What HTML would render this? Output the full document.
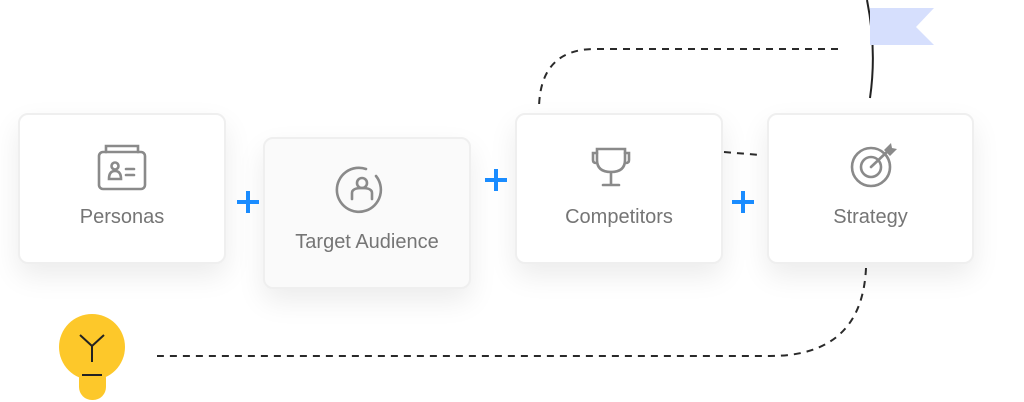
<!DOCTYPE html>
<html><head><style>
body{margin:0;width:1024px;height:402px;background:#fff;position:relative;overflow:hidden;font-family:"Liberation Sans",sans-serif}
.b{position:absolute;width:208px;height:151px;border:2px solid #efefef;border-radius:10px;background:#fff;box-shadow:0 12px 28px rgba(0,0,0,0.08);box-sizing:border-box}
.t{position:absolute;left:0;right:0;text-align:center;font-size:20px;color:#757575}
svg{position:absolute;left:0;top:0}
</style></head><body>
<div class="b" style="left:18px;top:113px"><div class="t" style="top:91px">Personas</div></div>
<div class="b" style="left:263px;top:137px;background:#fafafa;width:208px;height:152px"><div class="t" style="top:92px">Target Audience</div></div>
<div class="b" style="left:515px;top:113px;width:208px"><div class="t" style="top:91px">Competitors</div></div>
<div class="b" style="left:767px;top:113px;width:207px;height:151px"><div class="t" style="top:91px">Strategy</div></div>
<svg width="1024" height="402" viewBox="0 0 1024 402">
<g fill="none" stroke="#2a2a2a" stroke-width="2" stroke-dasharray="7 6">
<path d="M838,49 H595 Q540,49 539,108"/>
<path d="M724,152 L760,155"/>
<path d="M866,268 Q862,356 770,356 H157"/>
</g>
<path d="M867,0 Q877,50 870,98" fill="none" stroke="#222" stroke-width="2"/>
<polygon points="870,8 934,8 916,27 934,45 870,45" fill="#d6dffd"/>
<g stroke="#1a8cff" stroke-width="4">
<path d="M237,202H259M248,191V213"/><path d="M485,180H507M496,169V191"/><path d="M732,202H754M743,191V213"/>
</g>
<g fill="none" stroke="#8a8a8a" stroke-width="2.6" stroke-linecap="round">
<rect x="99" y="152" width="46" height="37" rx="4"/><path d="M106,152V146H138V152"/>
<circle cx="115" cy="166" r="3.5"/><path d="M109,179Q109,171 115,171Q121,171 121,179Z"/><path d="M126,169H134M126,175H134"/>
<path d="M376,176A22,22 0 1 1 366,169"/>
<circle cx="362" cy="183" r="5"/><path d="M352,199V193Q352,188 362,188Q372,188 372,193V199"/>
<path d="M597,149V160Q597,172 611,172Q625,172 625,160V149Z"/><path d="M597,153H593V160Q593,163 596,163M625,153H629V160Q629,163 626,163"/>
<path d="M611,172V184M603,185H619"/>
<circle cx="871" cy="167" r="19"/><circle cx="871" cy="167" r="10"/><path d="M871,167L889,150"/>
</g>
<path d="M884,150L891,143L892,148L897,149L890,156Z" fill="#8a8a8a"/>
<circle cx="92" cy="347" r="33" fill="#fdc82a"/>
<rect x="79" y="365" width="27" height="35" rx="13" fill="#fdc82a"/>
<g stroke="#222" stroke-width="2" fill="none"><path d="M80,335L92,346L104,335M92,346V362M82,375H102"/></g>
</svg>
</body></html>
